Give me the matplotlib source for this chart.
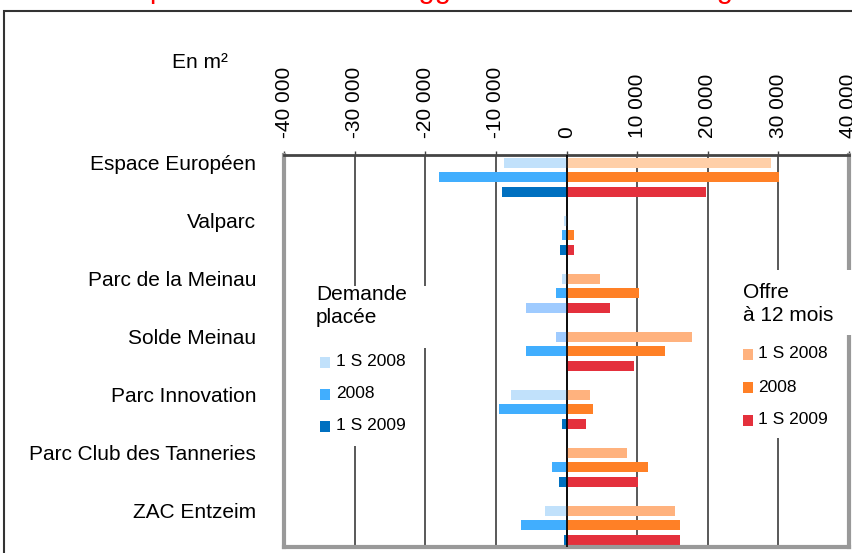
import matplotlib.pyplot as plt
from matplotlib.patches import Rectangle
from matplotlib.ticker import FuncFormatter
import numpy as np

plt.rcParams['font.family'] = ['Liberation Sans', 'DejaVu Sans']

parcs = ['Espace Européen', 'Valparc', 'Parc de la Meinau', 'Solde Meinau',
         'Parc Innovation', 'Parc Club des Tanneries', 'ZAC Entzeim']
periodes = ['1 S 2008', '2008', '1 S 2009']

# demande placée (en m², négatif)
demande_1s2008 = [-8800, -400, -600, -1500, -7900, 0, -3100]
demande_2008 = [-18100, -700, -1500, -5700, -9500, -2100, -6500]
demande_1s2009 = [-9100, -900, -5700, 0, -600, -1000, -400]

# offre à 12 mois (en m²)
offre_1s2008 = [28900, 0, 4800, 17800, 3300, 8600, 15300]
offre_2008 = [30100, 1000, 10300, 13900, 3800, 11600, 16100]
offre_1s2009 = [19700, 1100, 6100, 9600, 2700, 10100, 16100]

ticks = [-40000, -30000, -20000, -10000, 0, 10000, 20000, 30000, 40000]

titre = "Le marché des parcs tertiaires de l'agglomération strasbourgeoise"

col_dem = ['#c1e1fb', '#41aefe', '#0070c0']
col_off = ['#ffb27e', '#ff8026', '#e4303c']
# quelques barres ont une teinte différente dans l'original
col_special = {('dem', 2, 2): '#9fcbff', ('dem', 0, 3): '#9fcbff',
               ('off', 0, 0): '#ffcfa8'}

W, H = 853, 553
fig = plt.figure(figsize=(W / 100, H / 100), dpi=100)


def fx(px):
    return px / W


def fy(py):
    return 1 - py / H


ax = fig.add_axes([fx(284), fy(547), fx(849) - fx(284), fy(155) - fy(547)])

pos = np.arange(len(parcs)) * 4
bar_h = 0.69
for kind, data, cols in [('dem', [demande_1s2008, demande_2008, demande_1s2009], col_dem),
                         ('off', [offre_1s2008, offre_2008, offre_1s2009], col_off)]:
    for j, vals in enumerate(data):
        colors = [col_special.get((kind, j, i), cols[j]) for i in range(len(parcs))]
        ax.barh(pos + j, vals, height=bar_h, color=colors, zorder=2)

ax.axvline(0, color='black', lw=1.2, zorder=3)

ax.set_xlim(-40000, 40000)
ax.set_ylim(26.5, -0.55)
ax.set_xticks(ticks)
ax.xaxis.set_major_formatter(FuncFormatter(lambda v, p: f'{int(v):,}'.replace(',', ' ')))
ax.xaxis.tick_top()
ax.tick_params(axis='x', top=True, bottom=False, labeltop=True, labelbottom=False,
               length=3, width=1, color='#444', pad=9, labelsize=15, labelrotation=90)
ax.set_yticks(pos)
ax.set_yticklabels(parcs)
ax.tick_params(axis='y', length=0, pad=20, labelsize=15)
ax.xaxis.grid(True, color='#3c3c3c', lw=1.2)
ax.set_axisbelow(True)

ax.spines['top'].set_color('#444')
ax.spines['top'].set_linewidth(2)
for s in ['left', 'right', 'bottom']:
    ax.spines[s].set_color('#999')
    ax.spines[s].set_linewidth(3)

# cadre extérieur
fig.add_artist(Rectangle((fx(4), -0.02), 1.0, fy(11) + 0.02, transform=fig.transFigure,
                         fill=False, ec='#333', lw=1.5))

# titre (coupé en haut de l'image)
fig.text(fx(-51), fy(-2), titre, color='#ff0000', fontsize=21, va='baseline', ha='left')

fig.text(fx(200), fy(62), 'En m²', fontsize=15, ha='center', va='center')

# zones blanches des légendes
for x0, y0, x1, y1 in [(300, 286, 440, 348), (310, 348, 410, 446),
                       (735, 270, 853, 335), (735, 335, 830, 438)]:
    fig.add_artist(Rectangle((fx(x0), fy(y1)), fx(x1) - fx(x0), fy(y0) - fy(y1),
                             transform=fig.transFigure, fc='white', ec='none', zorder=1))

fig.text(fx(316), fy(306), 'Demande\nplacée', fontsize=15, va='center', ha='left',
         linespacing=1.3, zorder=2)
fig.text(fx(743), fy(304), 'Offre\nà 12 mois', fontsize=15, va='center', ha='left',
         linespacing=1.3, zorder=2)

for k, lab in enumerate(periodes):
    yl = 362 + 32 * k
    fig.add_artist(Rectangle((fx(320), fy(yl + 5.5)), fx(10), 11 / H,
                             transform=fig.transFigure, fc=col_dem[k], ec='none', zorder=2))
    fig.text(fx(336), fy(yl), lab, fontsize=12.5, va='center', ha='left', zorder=2)
    yr = 354 + 33 * k
    fig.add_artist(Rectangle((fx(743), fy(yr + 5.5)), fx(10), 11 / H,
                             transform=fig.transFigure, fc=col_off[k], ec='none', zorder=2))
    fig.text(fx(758), fy(yr), lab, fontsize=12.5, va='center', ha='left', zorder=2)

fig.savefig('out.png', dpi=100)
